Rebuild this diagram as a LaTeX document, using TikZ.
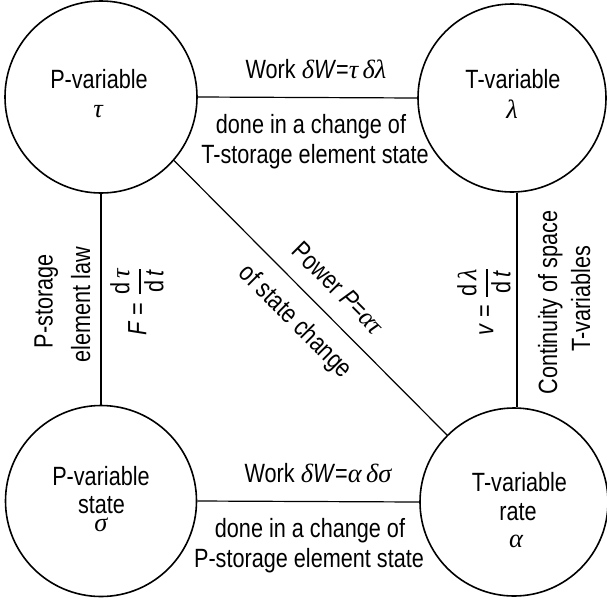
\documentclass[tikz,border=0pt]{standalone}
\usepackage{fontspec}
\usepackage{amsmath}
\setmainfont{Liberation Sans}[FakeStretch=0.82]
\newfontfamily\gkfont{Liberation Serif}
\newcommand\gk[1]{\text{\gkfont\itshape #1}}
\newcommand\myfrac[2]{\genfrac{}{}{1.2pt}{0}{#1}{#2}}
\begin{document}
\begin{tikzpicture}[x=1pt,y=-1pt,
  every node/.style={font=\fontsize{26.4}{29}\selectfont, inner sep=0pt},
  var/.style={circle, draw, line width=1.6pt, minimum size=#1},
  link/.style={line width=1.2pt},
  txt/.style={anchor=base},
  vtxt/.style={anchor=base, rotate=90},
  dtxt/.style={anchor=base, rotate=-45}]
\useasboundingbox (0,0) rectangle (607,600);

% circles
\node[var=192pt] (A) at (101,97) {};
\node[var=188pt] (B) at (512,98) {};
\node[var=191pt] (C) at (101,501) {};
\node[var=188pt] (D) at (514,502) {};

% circle texts
\node[txt] (a1) at (99,88) {P-variable};
\node[txt] (a2) at (98,117) {\gk{τ}};
\node[txt] (b1) at (513,88) {T-variable};
\node[txt] (b2) at (512,118) {\gk{λ}};
\node[txt] (c1) at (101,485) {P-variable};
\node[txt] (c2) at (101.5,513) {state};
\node[txt] (c3) at (101,531) {\gk{σ}};
\node[txt] (d1) at (519.5,491) {T-variable};
\node[txt] (d2) at (518,520) {rate};
\node[txt] (d3) at (516,547) {\gk{α}};

% connectors
\draw[link] (A.east) -- (B.west);
\draw[link] (A.south) -- (C.north);
\draw[link] (B.-87) -- (B.-87 |- D.north);
\draw[link] (C.east) -- (D.west);
\draw[link] (A.-41) -- (D.135);

% top labels
\node[txt] (t1) at (316,78) {Work \gk{δ}\textit{W}=\gk{τ}\,\gk{δλ}};
\node[txt] (t2) at (311,133) {done in a change of};
\node[txt] (t3) at (315,163) {T-storage element state};

% bottom labels
\node[txt] (u1) at (318,482) {Work \gk{δ}\textit{W}=\gk{α}\,\gk{δσ}};
\node[txt] (u2) at (310,537) {done in a change of};
\node[txt] (u3) at (309,567) {P-storage element state};

% left labels
\node[vtxt] (l1) at (52.5,301.5) {P-storage};
\node[vtxt] (l2) at (90,304.5) {element law};
\node[rotate=90] (l3) at (137,301.5) {$\textit{F}\;\text{=}\;\myfrac{\text{d}\,\gk{τ}}{\text{d}\,\textit{t}}$};

% right labels
\node[rotate=90] (r1) at (484,301.5) {$\textit{v}\;\text{=}\;\myfrac{\text{d}\,\gk{λ}}{\text{d}\,\textit{t}}$};
\node[vtxt] (r2) at (557,302.5) {Continuity of space};
\node[vtxt] (r3) at (590,298.5) {T-variables};

% diagonal labels
\node[dtxt] (p1) at (332,294.5) {Power \textit{P}=\gk{ατ}};
\node[dtxt] (p2) at (290,327) {of state change};
\end{tikzpicture}
\end{document}
